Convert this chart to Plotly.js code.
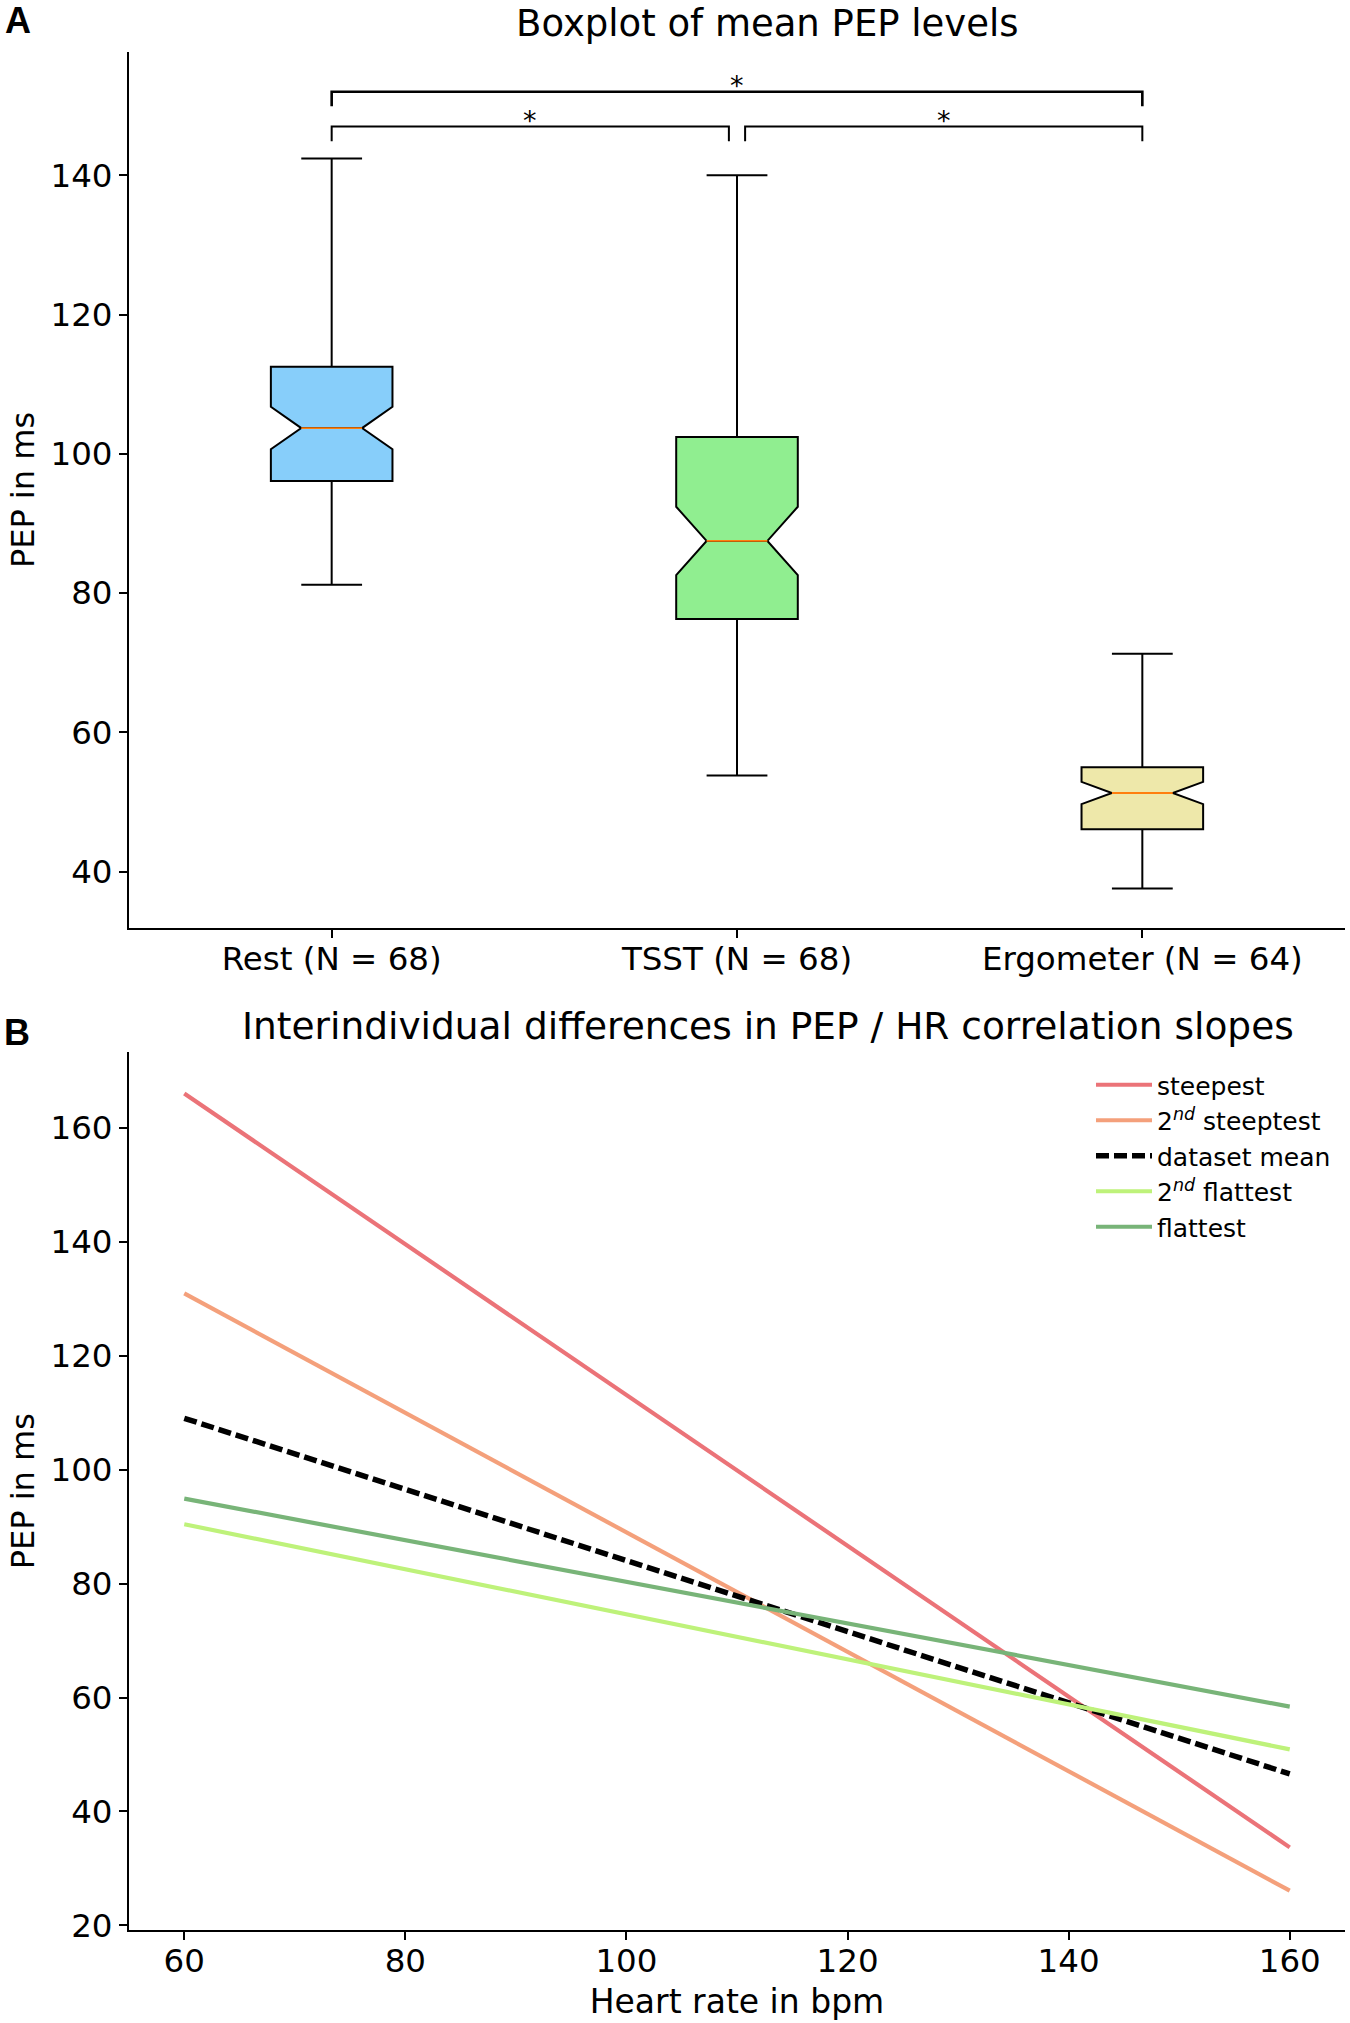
<!DOCTYPE html>
<html>
<head>
<meta charset="utf-8">
<script src="https://cdn.plot.ly/plotly-3.0.1.min.js"></script>
<style>
  html, body { margin: 0; padding: 0; background: #fff; }
  #chart { width: 1350px; height: 2023px; }
</style>
</head>
<body>
<div id="chart"></div>
<script>
// panel A - boxplot stats
var categories = ['Rest (N = 68)', 'TSST (N = 68)', 'Ergometer (N = 64)'];
var catPos = [1, 2, 3];
var q1 = [96.1, 76.3, 46.1];
var medians = [103.7, 87.5, 51.3];
var q3 = [112.5, 102.4, 55.0];
var lowerWhisker = [81.2, 53.8, 37.6];
var upperWhisker = [142.4, 140.0, 71.3];
var notchSpan = [3.05, 4.9, 1.6];
var boxColors = ['#87cefa', '#90ee90', '#eee8aa'];

// significance brackets
var bracketStart = [1, 1, 2.02];
var bracketEnd = [3, 1.98, 3];
var bracketTop = [152, 147, 147];
var bracketFoot = [149.9, 144.9, 144.9];
var bracketLabels = ['*', '*', '*'];
var bracketWidth = [2.6, 2, 2];

// panel B - regression lines
var hrRange = [60, 160];
var slopeNames = ['steepest', '2<sup><i>nd</i></sup> steeptest', 'dataset mean', '2<sup><i>nd</i></sup> flattest', 'flattest'];
var pepAt60 = [166.0, 130.9, 109.0, 90.4, 94.9];
var pepAt160 = [33.7, 26.1, 46.6, 50.9, 58.4];
var slopeColors = ['#eb7378', '#f4a07b', '#000000', '#bef27a', '#78b478'];
var slopeDash = ['solid', 'solid', '13px,5px', 'solid', 'solid'];

var boxWidth = 0.3;
var data = [];

for (var i = 0; i < categories.length; i++) {
    data.push({
        type: 'box',
        x: [catPos[i]],
        q1: [q1[i]],
        median: [medians[i]],
        q3: [q3[i]],
        lowerfence: [lowerWhisker[i]],
        upperfence: [upperWhisker[i]],
        notchspan: [notchSpan[i]],
        notched: true,
        notchwidth: 0.25,
        width: boxWidth,
        whiskerwidth: 0.5,
        fillcolor: boxColors[i],
        line: {color: '#000', width: 2},
        boxpoints: false,
        hoverinfo: 'skip',
        showlegend: false,
        xaxis: 'x',
        yaxis: 'y'
    });
}

// orange median lines on top of the boxes
for (var i = 0; i < categories.length; i++) {
    data.push({
        type: 'scatter',
        mode: 'lines',
        x: [catPos[i] - boxWidth / 4, catPos[i] + boxWidth / 4],
        y: [medians[i], medians[i]],
        line: {color: '#ff7f0e', width: 1.8},
        hoverinfo: 'skip',
        showlegend: false,
        xaxis: 'x',
        yaxis: 'y'
    });
}

for (var i = 0; i < bracketStart.length; i++) {
    data.push({
        type: 'scatter',
        mode: 'lines',
        x: [bracketStart[i], bracketStart[i], bracketEnd[i], bracketEnd[i]],
        y: [bracketFoot[i], bracketTop[i], bracketTop[i], bracketFoot[i]],
        line: {color: '#000', width: bracketWidth[i]},
        hoverinfo: 'skip',
        showlegend: false,
        xaxis: 'x',
        yaxis: 'y'
    });
}

for (var i = 0; i < slopeNames.length; i++) {
    data.push({
        type: 'scatter',
        mode: 'lines',
        name: slopeNames[i],
        x: hrRange,
        y: [pepAt60[i], pepAt160[i]],
        line: {color: slopeColors[i], width: i == 2 ? 5.5 : 4.2, dash: slopeDash[i]},
        xaxis: 'x2',
        yaxis: 'y2'
    });
}

var annotations = [];
for (var i = 0; i < bracketStart.length; i++) {
    annotations.push({
        xref: 'x', yref: 'y',
        x: (bracketStart[i] + bracketEnd[i]) / 2,
        y: bracketTop[i],
        text: bracketLabels[i],
        showarrow: false,
        yanchor: 'bottom',
        yshift: -11,
        font: {size: 27, color: '#000'}
    });
}

// paper coords: plot area is x 129..1345, y 52..1930 px
function px(x) { return (x - 129) / 1216; }
function py(y) { return (1930 - y) / 1878; }

annotations.push({xref: 'paper', yref: 'paper', x: px(768), y: py(23), text: 'Boxplot of mean PEP levels',
    showarrow: false, xanchor: 'center', yanchor: 'middle', font: {size: 37}});
annotations.push({xref: 'paper', yref: 'paper', x: px(768), y: py(1026), text: 'Interindividual differences in PEP / HR correlation slopes',
    showarrow: false, xanchor: 'center', yanchor: 'middle', font: {size: 37.5}});
annotations.push({xref: 'paper', yref: 'paper', x: px(18), y: py(20), text: '<b>A</b>',
    showarrow: false, xanchor: 'center', yanchor: 'middle', font: {size: 36, family: 'Liberation Sans, Arial'}});
annotations.push({xref: 'paper', yref: 'paper', x: px(17), y: py(1032), text: '<b>B</b>',
    showarrow: false, xanchor: 'center', yanchor: 'middle', font: {size: 36, family: 'Liberation Sans, Arial'}});

var axisStyle = {
    showline: true,
    linecolor: '#000',
    linewidth: 2,
    mirror: false,
    ticks: 'outside',
    ticklen: 8,
    tickwidth: 2,
    tickcolor: '#000',
    showgrid: false,
    zeroline: false,
    tickfont: {size: 32.5, color: '#000'}
};

function axis(extra) {
    var a = JSON.parse(JSON.stringify(axisStyle));
    for (var k in extra) a[k] = extra[k];
    return a;
}

var layout = {
    width: 1350,
    height: 2023,
    margin: {l: 129, r: 5, t: 52, b: 93, pad: 0},
    paper_bgcolor: '#fff',
    plot_bgcolor: '#fff',
    font: {family: 'DejaVu Sans', color: '#000'},
    boxmode: 'overlay',
    xaxis: axis({domain: [0, 1], anchor: 'y', range: [0.5, 3.5], tickvals: catPos, ticktext: categories,
        ticklabelstandoff: -7}),
    yaxis: axis({domain: [0.5335, 1], anchor: 'x', range: [31.9, 157.7], tickvals: [40, 60, 80, 100, 120, 140],
        title: {text: 'PEP in ms', font: {size: 32}, standoff: 6}}),
    xaxis2: axis({domain: [0, 1], anchor: 'y2', range: [55, 165], tickvals: [60, 80, 100, 120, 140, 160],
        ticklabelstandoff: -7,
        title: {text: 'Heart rate in bpm', font: {size: 33}, standoff: 11}}),
    yaxis2: axis({domain: [0, 0.4673], anchor: 'x2', range: [19.2, 173.2], tickvals: [20, 40, 60, 80, 100, 120, 140, 160],
        title: {text: 'PEP in ms', font: {size: 32}, standoff: 6}}),
    legend: {
        x: px(1091), y: py(1062), xanchor: 'left', yanchor: 'top',
        bgcolor: 'rgba(0,0,0,0)', borderwidth: 0,
        font: {size: 25},
        itemwidth: 56
    },
    annotations: annotations
};

Plotly.newPlot('chart', data, layout, {staticPlot: true});
</script>
</body>
</html>
